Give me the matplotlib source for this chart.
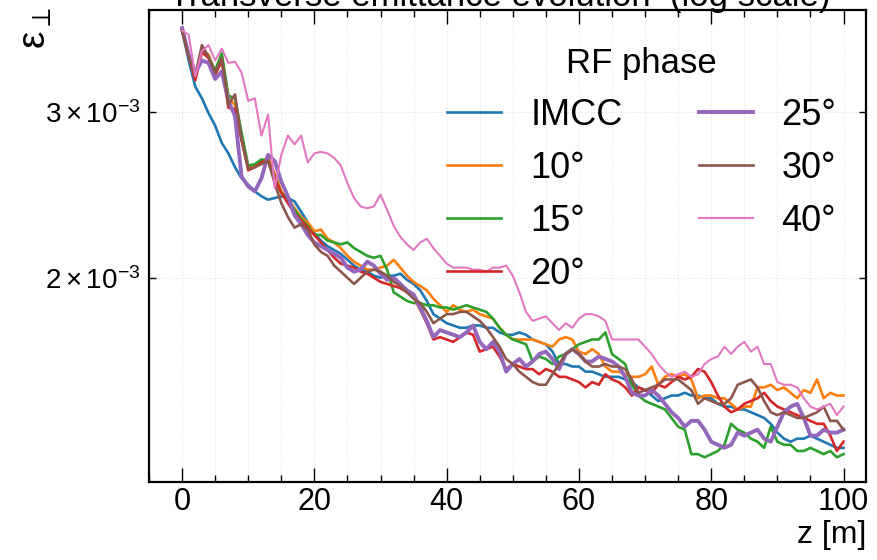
import numpy as np
import matplotlib
matplotlib.use("Agg")
import matplotlib.pyplot as plt
from matplotlib.ticker import MultipleLocator

plt.rcParams['font.family'] = ['Liberation Sans', 'DejaVu Sans']
plt.rcParams['mathtext.fontset'] = 'custom'
plt.rcParams['mathtext.rm'] = 'Liberation Sans'
plt.rcParams['mathtext.it'] = 'Liberation Sans:italic'
plt.rcParams['mathtext.bf'] = 'Liberation Sans:bold'

z = np.arange(0, 101)

imcc = [3.66, 3.40, 3.19, 3.10, 2.99, 2.90, 2.78, 2.71, 2.62, 2.55, 2.51, 2.47, 2.44, 2.42, 2.43, 2.44, 2.43, 2.41, 2.35, 2.29,
        2.23, 2.19, 2.16, 2.14, 2.12, 2.09, 2.06, 2.04, 2.03, 2.01, 2.00, 2.01, 2.01, 2.02, 1.99, 1.97, 1.94, 1.89, 1.83, 1.81,
        1.79, 1.78, 1.77, 1.77, 1.78, 1.78, 1.77, 1.77, 1.75, 1.74, 1.74, 1.75, 1.74, 1.72, 1.71, 1.70, 1.67, 1.62, 1.62, 1.61,
        1.61, 1.59, 1.59, 1.58, 1.57, 1.57, 1.57, 1.56, 1.55, 1.53, 1.52, 1.50, 1.48, 1.49, 1.50, 1.50, 1.51, 1.50, 1.50, 1.49,
        1.49, 1.47, 1.46, 1.46, 1.45, 1.45, 1.44, 1.43, 1.42, 1.40, 1.37, 1.35, 1.34, 1.35, 1.35, 1.36, 1.35, 1.34, 1.33, 1.32,
        1.32]
ph10 = [3.66, 3.45, 3.25, 3.48, 3.45, 3.30, 3.44, 3.10, 3.05, 2.80, 2.62, 2.63, 2.66, 2.68, 2.58, 2.47, 2.43, 2.37, 2.32, 2.29,
        2.24, 2.25, 2.20, 2.18, 2.15, 2.11, 2.08, 2.06, 2.04, 2.04, 2.05, 2.06, 2.09, 2.05, 2.01, 1.98, 1.96, 1.94, 1.90, 1.87,
        1.84, 1.87, 1.85, 1.84, 1.85, 1.83, 1.82, 1.81, 1.77, 1.74, 1.72, 1.72, 1.72, 1.72, 1.71, 1.70, 1.69, 1.72, 1.73, 1.72,
        1.67, 1.66, 1.68, 1.66, 1.61, 1.59, 1.59, 1.58, 1.57, 1.57, 1.58, 1.61, 1.54, 1.57, 1.58, 1.57, 1.58, 1.56, 1.49, 1.50,
        1.50, 1.49, 1.49, 1.47, 1.45, 1.46, 1.46, 1.53, 1.53, 1.54, 1.52, 1.53, 1.51, 1.49, 1.52, 1.51, 1.56, 1.49, 1.51, 1.50,
        1.50]
ph15 = [3.66, 3.45, 3.27, 3.50, 3.43, 3.32, 3.46, 3.12, 3.10, 2.85, 2.63, 2.64, 2.67, 2.66, 2.56, 2.46, 2.42, 2.36, 2.31, 2.27,
        2.22, 2.22, 2.19, 2.18, 2.17, 2.18, 2.15, 2.13, 2.11, 2.10, 2.11, 2.04, 1.93, 1.91, 1.89, 1.88, 1.88, 1.87, 1.87, 1.86,
        1.86, 1.85, 1.86, 1.87, 1.86, 1.85, 1.84, 1.81, 1.77, 1.74, 1.72, 1.71, 1.70, 1.63, 1.65, 1.64, 1.62, 1.65, 1.66, 1.68,
        1.70, 1.71, 1.72, 1.72, 1.75, 1.66, 1.64, 1.62, 1.54, 1.50, 1.48, 1.47, 1.46, 1.45, 1.42, 1.39, 1.38, 1.30, 1.30, 1.29,
        1.30, 1.31, 1.33, 1.40, 1.38, 1.37, 1.35, 1.34, 1.32, 1.39, 1.34, 1.33, 1.33, 1.31, 1.31, 1.32, 1.31, 1.30, 1.31, 1.29,
        1.30]
ph20 = [3.66, 3.44, 3.24, 3.47, 3.42, 3.28, 3.40, 3.03, 3.02, 2.80, 2.60, 2.62, 2.65, 2.67, 2.55, 2.46, 2.40, 2.34, 2.30, 2.26,
        2.22, 2.18, 2.14, 2.10, 2.07, 2.06, 2.05, 2.03, 2.02, 2.00, 1.98, 1.97, 1.96, 1.95, 1.93, 1.91, 1.85, 1.79, 1.72, 1.73,
        1.72, 1.71, 1.73, 1.75, 1.74, 1.67, 1.68, 1.69, 1.65, 1.60, 1.62, 1.61, 1.60, 1.60, 1.58, 1.60, 1.59, 1.57, 1.57, 1.56,
        1.55, 1.53, 1.55, 1.54, 1.58, 1.56, 1.55, 1.53, 1.50, 1.53, 1.52, 1.51, 1.54, 1.53, 1.55, 1.57, 1.56, 1.57, 1.60, 1.59,
        1.55, 1.50, 1.46, 1.44, 1.45, 1.47, 1.48, 1.49, 1.51, 1.48, 1.46, 1.45, 1.44, 1.43, 1.42, 1.41, 1.40, 1.40, 1.36, 1.31,
        1.34]
ph25 = [3.68, 3.45, 3.30, 3.40, 3.38, 3.25, 3.31, 3.08, 2.97, 2.56, 2.50, 2.47, 2.55, 2.70, 2.66, 2.53, 2.44, 2.33, 2.28, 2.22,
        2.18, 2.16, 2.14, 2.12, 2.10, 2.05, 2.03, 2.04, 2.08, 2.06, 2.02, 1.99, 2.00, 1.97, 1.94, 1.92, 1.86, 1.80, 1.73, 1.76,
        1.75, 1.74, 1.73, 1.75, 1.78, 1.71, 1.68, 1.71, 1.67, 1.59, 1.62, 1.64, 1.61, 1.63, 1.66, 1.67, 1.64, 1.60, 1.66, 1.68,
        1.66, 1.63, 1.63, 1.65, 1.64, 1.63, 1.61, 1.57, 1.51, 1.50, 1.50, 1.52, 1.50, 1.47, 1.44, 1.42, 1.39, 1.41, 1.41, 1.38,
        1.34, 1.33, 1.32, 1.33, 1.37, 1.36, 1.37, 1.38, 1.35, 1.34, 1.39, 1.44, 1.46, 1.47, 1.42, 1.36, 1.36, 1.38, 1.37, 1.37,
        1.38]
ph30 = [3.66, 3.43, 3.28, 3.53, 3.43, 3.30, 3.42, 3.05, 3.13, 2.80, 2.61, 2.62, 2.64, 2.66, 2.52, 2.40, 2.32, 2.26, 2.28, 2.25,
        2.17, 2.13, 2.11, 2.06, 2.03, 2.00, 1.97, 2.00, 2.03, 2.04, 2.03, 2.01, 1.98, 1.96, 1.93, 1.90, 1.88, 1.84, 1.79, 1.81,
        1.83, 1.83, 1.84, 1.84, 1.82, 1.80, 1.77, 1.73, 1.69, 1.64, 1.62, 1.59, 1.57, 1.55, 1.54, 1.54, 1.58, 1.62, 1.66, 1.68,
        1.66, 1.63, 1.61, 1.61, 1.62, 1.61, 1.61, 1.60, 1.56, 1.51, 1.52, 1.53, 1.54, 1.56, 1.56, 1.56, 1.54, 1.52, 1.47, 1.49,
        1.48, 1.47, 1.47, 1.49, 1.54, 1.55, 1.56, 1.53, 1.48, 1.44, 1.43, 1.44, 1.43, 1.42, 1.42, 1.43, 1.44, 1.46, 1.41, 1.41,
        1.38]
ph40 = [3.66, 3.62, 3.27, 3.48, 3.53, 3.40, 3.50, 3.38, 3.39, 3.30, 3.08, 3.10, 2.83, 2.98, 2.49, 2.70, 2.83, 2.77, 2.83, 2.65,
        2.71, 2.72, 2.71, 2.68, 2.63, 2.52, 2.43, 2.38, 2.37, 2.38, 2.45, 2.36, 2.27, 2.21, 2.17, 2.14, 2.18, 2.20, 2.15, 2.11,
        2.07, 2.05, 2.05, 2.05, 2.04, 2.04, 2.03, 2.05, 2.05, 2.06, 2.01, 1.93, 1.84, 1.80, 1.81, 1.82, 1.79, 1.76, 1.79, 1.77,
        1.81, 1.83, 1.83, 1.82, 1.80, 1.72, 1.72, 1.72, 1.72, 1.72, 1.69, 1.66, 1.62, 1.59, 1.57, 1.58, 1.59, 1.57, 1.58, 1.62,
        1.64, 1.65, 1.69, 1.66, 1.69, 1.71, 1.67, 1.69, 1.62, 1.62, 1.55, 1.54, 1.54, 1.53, 1.49, 1.46, 1.45, 1.46, 1.47, 1.43,
        1.46]

labels = ['IMCC', '10°', '15°', '20°', '25°', '30°', '40°']
series = [imcc, ph10, ph15, ph20, ph25, ph30, ph40]
colors = ['#1f77b4', '#ff7f0e', '#2ca02c', '#d62728', '#9467bd', '#8c564b', '#e377c2']
widths = [1.9, 1.9, 1.9, 1.9, 2.8, 1.9, 1.5]

fig = plt.figure(figsize=(8.78, 5.60), dpi=100)
ax = fig.add_axes([149/878, 1 - 482/560, (866 - 149)/878, (482 - 9.5)/560])

for vals, lab, c, lw in zip(series, labels, colors, widths):
    ax.plot(z, np.array(vals) * 1e-3, color=c, lw=lw, label=lab)

ax.set_yscale('log')
ax.set_xlim(-5, 103.4)
ax.set_ylim(1.2144e-3, 3.851e-3)
ax.xaxis.set_major_locator(MultipleLocator(20))
ax.xaxis.set_minor_locator(MultipleLocator(5))

ax.grid(which='both', color='#e4e4e4', lw=0.8, ls=':')
ax.tick_params(which='both', direction='in', top=True, right=True, labelsize=22, width=1)
ax.tick_params(which='major', length=10)
ax.tick_params(which='minor', length=5)
ax.tick_params(axis='y', which='minor', labelsize=20, pad=6)
for sp in ax.spines.values():
    sp.set_linewidth(1.6)

ax.set_xlabel('z [m]', fontsize=23, loc='right', labelpad=2)
ax.set_ylabel(r'$\mathrm{\varepsilon}_{\perp}$', fontsize=28, loc='top')
ax.yaxis.set_label_coords(-0.133, 1.005)

fig.text(500/878, 1 - 6/560, 'Transverse emittance evolution  (log scale)', ha='center',
         va='baseline', fontsize=25)

leg = ax.legend(title='RF phase', ncol=2, frameon=False, fontsize=26, title_fontsize=25,
                handlelength=1.5, handletextpad=0.8, columnspacing=2.1, labelspacing=0.5,
                loc='upper right', bbox_to_anchor=(1.004, 0.99))

fig.savefig('out.png', dpi=100)
